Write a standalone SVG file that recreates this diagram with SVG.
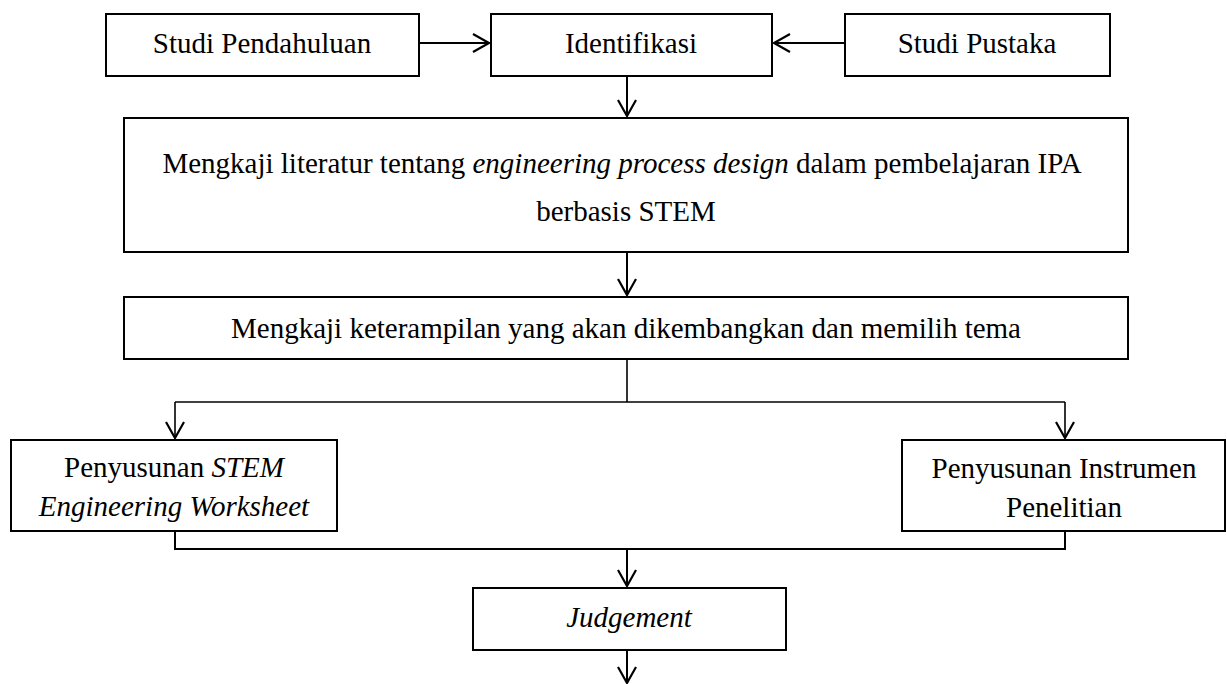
<svg xmlns="http://www.w3.org/2000/svg" width="1227" height="684" viewBox="0 0 1227 684">
<style>
.box{fill:#fff;stroke:#000;stroke-width:2}
.t{font-size:29px;fill:#000;text-anchor:middle}
.i{font-style:italic}
.c{fill:none;stroke:#000;stroke-width:2}
.thin{stroke-width:1.6}
</style>
<defs>
<marker id="ah" markerUnits="userSpaceOnUse" markerWidth="24" markerHeight="24" viewBox="-20 -12 24 24" refX="0" refY="0" orient="auto">
<polyline points="-16,-9 0,0 -16,9" fill="none" stroke="#000" stroke-width="2.2"/>
</marker>
</defs>
<rect width="1227" height="684" fill="#fff"/>
<g id="connectors">
<line class="c" x1="419" y1="43" x2="489" y2="43" marker-end="url(#ah)"/>
<line class="c" x1="845" y1="43" x2="774" y2="43" marker-end="url(#ah)"/>
<line class="c" x1="627" y1="76" x2="627" y2="116" marker-end="url(#ah)"/>
<line class="c" x1="627" y1="252" x2="627" y2="295" marker-end="url(#ah)"/>
<polyline class="c thin" points="627,359 627,402"/>
<polyline class="c thin" points="175,402 1065,402"/>
<line class="c thin" x1="175" y1="402" x2="175" y2="438" marker-end="url(#ah)"/>
<line class="c thin" x1="1065" y1="402" x2="1065" y2="438" marker-end="url(#ah)"/>
<polyline class="c" points="175,531 175,549 1065,549 1065,531"/>
<line class="c" x1="627" y1="549" x2="627" y2="586" marker-end="url(#ah)"/>
<line class="c" x1="627" y1="650" x2="627" y2="683" marker-end="url(#ah)"/>
</g>
<g font-family="Liberation Serif, Tinos, Times New Roman, serif">
<g id="studi-pendahuluan">
<rect class="box" x="106" y="14" width="313" height="62"/>
<text class="t" x="262" y="53">Studi Pendahuluan</text>
</g>
<g id="identifikasi">
<rect class="box" x="491" y="14" width="281" height="62"/>
<text class="t" x="631" y="53">Identifikasi</text>
</g>
<g id="studi-pustaka">
<rect class="box" x="845" y="14" width="265" height="62"/>
<text class="t" x="977" y="53">Studi Pustaka</text>
</g>
<g id="mengkaji-literatur">
<rect class="box" x="124" y="118" width="1004" height="134"/>
<text class="t" x="622" y="173">Mengkaji literatur tentang <tspan class="i">engineering process design</tspan> dalam pembelajaran IPA</text>
<text class="t" x="626" y="221">berbasis STEM</text>
</g>
<g id="mengkaji-keterampilan">
<rect class="box" x="124" y="297" width="1004" height="62"/>
<text class="t" x="626" y="338">Mengkaji keterampilan yang akan dikembangkan dan memilih tema</text>
</g>
<g id="penyusunan-stem">
<rect class="box" x="11" y="440" width="326" height="91"/>
<text class="t" x="174" y="477">Penyusunan <tspan class="i">STEM</tspan></text>
<text class="t i" x="174" y="516">Engineering Worksheet</text>
</g>
<g id="penyusunan-instrumen">
<rect class="box" x="902" y="440" width="323" height="91"/>
<text class="t" x="1064" y="478">Penyusunan Instrumen</text>
<text class="t" x="1064" y="517">Penelitian</text>
</g>
<g id="judgement">
<rect class="box" x="473" y="588" width="313" height="62"/>
<text class="t i" x="629" y="627">Judgement</text>
</g>
</g>
</svg>
